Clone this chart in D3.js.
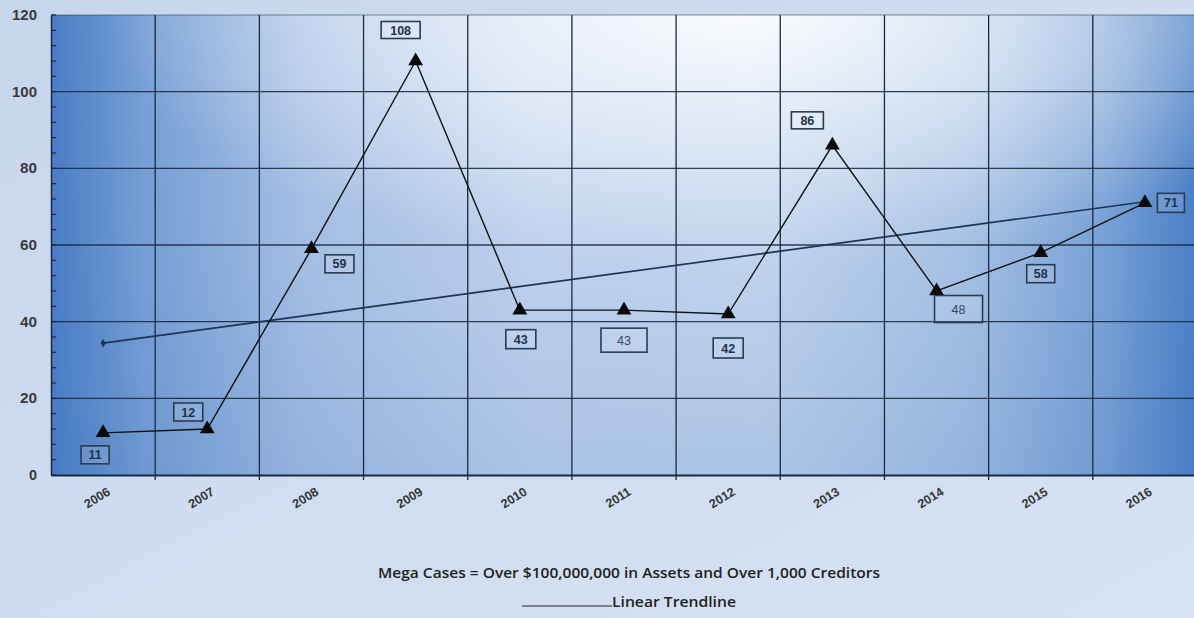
<!DOCTYPE html>
<html>
<head>
<meta charset="utf-8">
<script src="https://cdn.jsdelivr.net/npm/d3@7"></script>
<style>
  html, body { margin: 0; padding: 0; background: #ccdbef; }
  svg { display: block; }
</style>
</head>
<body>
<svg id="chart" width="1194" height="618"></svg>
<script>
// ---- data ----
const years = ["2006","2007","2008","2009","2010","2011","2012","2013","2014","2015","2016"];
const megaCases = [11, 12, 59, 108, 43, 43, 42, 86, 48, 58, 71];
const trendline = [34.4, 71.3];           // linear trendline values at 2006 and 2016
const yTicks = [0, 20, 40, 60, 80, 100, 120];
const footnote = "Mega Cases = Over $100,000,000 in Assets and Over 1,000 Creditors";
const legendLabel = "Linear Trendline";

// ---- label layout (offsets of value boxes from their points) ----
const labelDx = [-8, -19, 28, -15, 1, 0, 0, -25, 22, 0, 26];
const labelDy = [22, -17, 15, -31, 29, 30, 34, -25, 18, 21, 0];
const labelW  = [28, 29, 29, 39, 30, 46, 30, 32, 48, 28, 27];
const labelH  = [18, 18, 18, 17, 19, 24, 20, 17, 27, 18, 19];
const labelBold = [1,1,1,1,1,0,1,1,0,1,1];

const W = 1194, H = 618;
const m = { left: 51, right: 1197, top: 15, bottom: 475 };
const svg = d3.select("#chart");
const defs = svg.append("defs");

// page background
const pg = defs.append("linearGradient").attr("id","pageBg").attr("x1",0).attr("y1",0).attr("x2",1).attr("y2",1);
pg.append("stop").attr("offset","0%").attr("stop-color","#c6d6ed");
pg.append("stop").attr("offset","50%").attr("stop-color","#d0ddf0");
pg.append("stop").attr("offset","100%").attr("stop-color","#d7e2f2");
svg.append("rect").attr("width",W).attr("height",H).attr("fill","url(#pageBg)");

// plot background gradients
const hg = defs.append("linearGradient").attr("id","plotH").attr("x1",0).attr("y1",0).attr("x2",1).attr("y2",0);
[["0%","#4a7dc5"],["8%","#77a0d6"],["22%","#a8c1e6"],["42%","#c3d5ef"],["62%","#c5d7ef"],["80%","#a8c3e6"],["92%","#7ba3d7"],["100%","#4a7fc7"]]
  .forEach(([o,c]) => hg.append("stop").attr("offset",o).attr("stop-color",c));
const rg = defs.append("radialGradient").attr("id","plotR").attr("cx",0.6).attr("cy",0.0).attr("r",0.55).attr("fx",0.6).attr("fy",0.0);
rg.append("stop").attr("offset","0%").attr("stop-color","#ffffff").attr("stop-opacity",0.9);
rg.append("stop").attr("offset","55%").attr("stop-color","#ffffff").attr("stop-opacity",0.45);
rg.append("stop").attr("offset","100%").attr("stop-color","#ffffff").attr("stop-opacity",0);
const vg = defs.append("linearGradient").attr("id","plotV").attr("x1",0).attr("y1",0).attr("x2",0).attr("y2",1);
vg.append("stop").attr("offset","0%").attr("stop-color","#3a6fb8").attr("stop-opacity",0);
vg.append("stop").attr("offset","55%").attr("stop-color","#3a6fb8").attr("stop-opacity",0.05);
vg.append("stop").attr("offset","100%").attr("stop-color","#3a6fb8").attr("stop-opacity",0.18);

const pw = m.right - m.left, ph = m.bottom - m.top;
["plotH","plotR","plotV"].forEach(id =>
  svg.append("rect").attr("x",m.left).attr("y",m.top).attr("width",pw).attr("height",ph).attr("fill",`url(#${id})`));

// scales
const x = d3.scaleBand().domain(years).range([m.left, m.right]).padding(0);
const cx = d => x(d) + x.bandwidth()/2;
const y = d3.scaleLinear().domain([0,120]).range([m.bottom, m.top]);

// grid
const grid = svg.append("g").attr("stroke","#1b2a3e").attr("stroke-width",1.3);
grid.selectAll("line.h").data(yTicks.filter(t=>t>0)).join("line")
  .attr("x1",m.left).attr("x2",m.right).attr("y1",d=>y(d)).attr("y2",d=>y(d))
  .attr("stroke-opacity", d => d===120 ? 0.35 : 0.9);
grid.selectAll("line.v").data(years.slice(1)).join("line")
  .attr("x1",d=>x(d)).attr("x2",d=>x(d)).attr("y1",m.top).attr("y2",m.bottom+5);

// y axis
const yAxis = d3.axisLeft(y).tickValues(yTicks).tickSize(0).tickPadding(12);
const ya = svg.append("g").attr("transform",`translate(${m.left},0)`).call(yAxis);
ya.select(".domain").attr("stroke","#1b2a3e").attr("stroke-width",1.5);
ya.selectAll("text").attr("font-family","'Liberation Sans', Arial, sans-serif")
  .attr("font-weight","bold").attr("font-size",14).attr("fill","#3a3a3a").attr("x",-14)
  .attr("textLength",d => d>=100 ? 25 : (d>=10 ? 17 : 8)).attr("lengthAdjust","spacingAndGlyphs");
// minor ticks
svg.append("g").selectAll("line").data(d3.range(0,121,4)).join("line")
  .attr("x1",m.left).attr("x2",m.left+5).attr("y1",d=>y(d)).attr("y2",d=>y(d))
  .attr("stroke","#1b2a3e").attr("stroke-width",1.2);

// x axis
const xAxis = d3.axisBottom(x).tickSize(0).tickPadding(0);
const xa = svg.append("g").attr("transform",`translate(0,${m.bottom})`).call(xAxis);
xa.select(".domain").attr("stroke","#1b2a3e").attr("stroke-width",1.8);
xa.selectAll("text")
  .attr("font-family","'Liberation Sans', Arial, sans-serif").attr("font-weight","bold")
  .attr("font-size",12.5).attr("fill","#333").attr("text-anchor","end")
  .attr("dy",0).attr("y",0)
  .attr("transform","translate(8,19) rotate(-32)");

// trendline
svg.append("line")
  .attr("x1",cx(years[0])).attr("y1",y(trendline[0]))
  .attr("x2",cx(years[years.length-1])).attr("y2",y(trendline[1]))
  .attr("stroke","#1e3455").attr("stroke-width",1.6);
svg.append("path").attr("d",d3.symbol(d3.symbolDiamond,22)())
  .attr("transform",`translate(${cx(years[0])},${y(trendline[0])})`).attr("fill","#1e3455");

// main line
const data = years.map((yr,i)=>({yr, v:megaCases[i], i}));
svg.append("path").datum(data)
  .attr("d", d3.line().x(d=>cx(d.yr)).y(d=>y(d.v)))
  .attr("fill","none").attr("stroke","#111").attr("stroke-width",1.4);
svg.append("g").selectAll("path").data(data).join("path")
  .attr("d", d3.symbol(d3.symbolTriangle, 95)())
  .attr("transform", d=>`translate(${cx(d.yr)},${y(d.v)})`)
  .attr("fill","#0a0a0a");

// value labels
const lg = svg.append("g").selectAll("g").data(data).join("g")
  .attr("transform", d=>`translate(${cx(d.yr)+labelDx[d.i]},${y(d.v)+labelDy[d.i]})`);
lg.append("rect")
  .attr("x",d=>-labelW[d.i]/2).attr("y",d=>-labelH[d.i]/2)
  .attr("width",d=>labelW[d.i]).attr("height",d=>labelH[d.i])
  .attr("fill","#ffffff").attr("fill-opacity",0.12)
  .attr("stroke","#2a3b52").attr("stroke-width",1.6);
lg.append("text").text(d=>d.v)
  .attr("text-anchor","middle").attr("dy","0.36em")
  .attr("font-family","'Liberation Sans', Arial, sans-serif")
  .attr("font-weight",d=>labelBold[d.i] ? "bold" : "normal")
  .attr("font-size",12.5)
  .attr("fill",d=>labelBold[d.i] ? "#22324a" : "#3b4a60");

// footnote & legend
svg.append("text").text(footnote).attr("x",378).attr("y",578)
  .attr("font-family","'Open Sans', 'Noto Sans', sans-serif")
  .attr("font-weight","600").attr("font-size",13.5).attr("fill","#222")
  .attr("textLength",502).attr("lengthAdjust","spacingAndGlyphs");
svg.append("line").attr("x1",522).attr("x2",612).attr("y1",606).attr("y2",606)
  .attr("stroke","#222").attr("stroke-width",1);
svg.append("text").text(legendLabel).attr("x",612).attr("y",607)
  .attr("font-family","'Open Sans', 'Noto Sans', sans-serif")
  .attr("font-weight","600").attr("font-size",13.5).attr("fill","#222")
  .attr("textLength",124).attr("lengthAdjust","spacingAndGlyphs");
</script>
</body>
</html>
